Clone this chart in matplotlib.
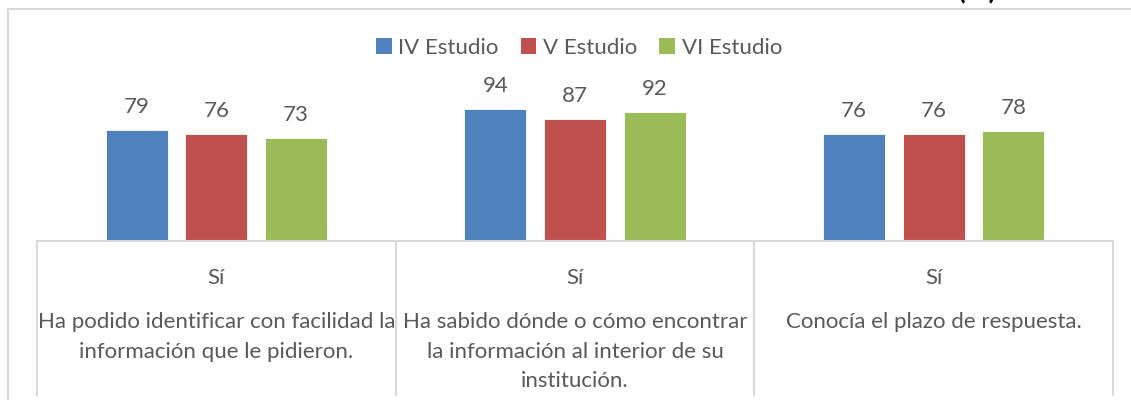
import matplotlib
matplotlib.use("Agg")
import matplotlib.pyplot as plt
from matplotlib.lines import Line2D
from matplotlib.patches import Patch

categories = ["Sí", "Sí", "Sí"]
questions = [
    "Ha podido identificar con facilidad la\ninformación que le pidieron.",
    "Ha sabido dónde o cómo encontrar\nla información al interior de su\ninstitución.",
    "Conocía el plazo de respuesta.",
]
series_names = ["IV Estudio", "V Estudio", "VI Estudio"]
iv_vals = [79, 94, 76]
v_vals = [76, 87, 76]
vi_vals = [73, 92, 78]
colors = ["#4F81BD", "#C0504D", "#9BBB59"]

plt.rcParams['font.family'] = ['Lato', 'DejaVu Sans']
txt = "#595959"
grid = "#D9D9D9"
fs = 16

W, H = 1131, 400
fig = plt.figure(figsize=(W / 100, H / 100), dpi=100)
x0, x1 = 37, 1113
ybase, ytop = 241, 100.5
ax = fig.add_axes([x0 / W, (H - ybase) / H, (x1 - x0) / W, (ybase - ytop) / H])
ax.set_xlim(-0.5, 2.5)
ax.set_ylim(0, 100)

bw = 0.173
step = 0.222
for i, (vals, c) in enumerate(zip([iv_vals, v_vals, vi_vals], colors)):
    xs = [k + (i - 1) * step for k in range(len(vals))]
    bars = ax.bar(xs, vals, width=bw, color=c, edgecolor="white", linewidth=0.6)
    for b, v in zip(bars, vals):
        ax.annotate(str(v), (b.get_x() + b.get_width() / 2, v), xytext=(0, 9.5),
                    textcoords="offset points", ha="center", va="bottom",
                    fontsize=fs, color=txt)

for s in ["top", "right", "left"]:
    ax.spines[s].set_visible(False)
ax.spines["bottom"].set_color(grid)
ax.spines["bottom"].set_linewidth(1.5)
ax.set_xticks([])
ax.set_yticks([])

px = 100 / (ybase - ytop)  # data units per pixel
ybot = -(395 - ybase) * px
for xv in [-0.5, 0.5, 1.5, 2.5]:
    ax.plot([xv, xv], [0, ybot], color=grid, lw=1.5, clip_on=False)

for k, (c, q) in enumerate(zip(categories, questions)):
    ax.text(k, -(278 - ybase) * px, c, ha="center", va="center", fontsize=fs, color=txt)
    ax.text(k, -(312 - ybase) * px, q, ha="center", va="top", fontsize=fs, color=txt,
            linespacing=1.6)

handles = [Patch(facecolor=c, label=n) for c, n in zip(colors, series_names)]
fig.legend(handles=handles, loc="center", bbox_to_anchor=(579 / W, 1 - 48 / H), ncol=3,
           frameon=False, fontsize=fs, labelcolor=txt, handlelength=0.7, handleheight=0.7,
           handletextpad=0.3, columnspacing=1.0)

fig.add_artist(Line2D([8 / W, 1], [1 - 9 / H, 1 - 9 / H], color=grid, lw=1.5))
fig.add_artist(Line2D([8 / W, 8 / W], [0, 1 - 9 / H], color=grid, lw=1.5))
fig.text(977 / W, 1 - 4 / H, "(%)", ha="center", va="bottom", fontsize=20,
         fontweight="bold", color="black")

fig.savefig("out.png", dpi=100)
